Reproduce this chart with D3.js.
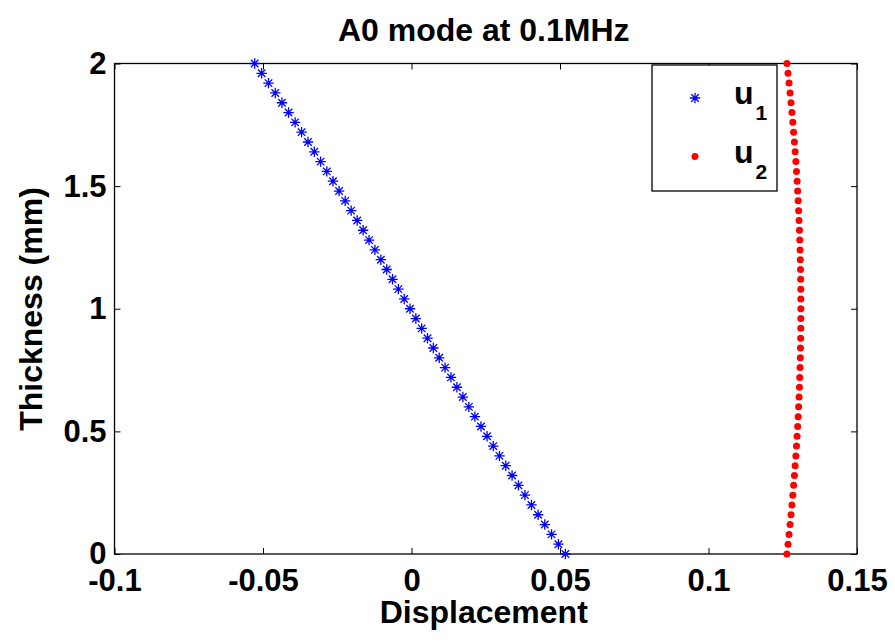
<!DOCTYPE html>
<html>
<head>
<meta charset="utf-8">
<script src="https://cdn.jsdelivr.net/npm/d3@7"></script>
<style>
  body { margin: 0; background: #fff; }
  svg { font-family: "Liberation Sans", Arial, sans-serif; font-weight: bold; }
</style>
</head>
<body>
<svg id="chart" width="895" height="641"></svg>
<script>
// thickness positions through the plate (mm)
var thickness = [0, 0.04, 0.08, 0.12, 0.16, 0.2, 0.24, 0.28, 0.32, 0.36, 0.4, 0.44, 0.48, 0.52, 0.56,
    0.6, 0.64, 0.68, 0.72, 0.76, 0.8, 0.84, 0.88, 0.92, 0.96, 1, 1.04, 1.08, 1.12, 1.16, 1.2, 1.24,
    1.28, 1.32, 1.36, 1.4, 1.44, 1.48, 1.52, 1.56, 1.6, 1.64, 1.68, 1.72, 1.76, 1.8, 1.84, 1.88,
    1.92, 1.96, 2];

// in-plane displacement u1
var u1 = [0.0518, 0.04946, 0.04715, 0.04487, 0.04262, 0.04039, 0.03819, 0.03601, 0.03386, 0.03173,
    0.02961, 0.02752, 0.02544, 0.02339, 0.02134, 0.01931, 0.01729, 0.01529, 0.01329, 0.01131,
    0.00933, 0.00735, 0.00539, 0.00342, 0.00146, -0.0005, -0.00246, -0.00442, -0.00639, -0.00835,
    -0.01033, -0.01231, -0.01429, -0.01629, -0.01829, -0.02031, -0.02234, -0.02439, -0.02644, -0.02852,
    -0.03061, -0.03273, -0.03486, -0.03701, -0.03919, -0.04139, -0.04362, -0.04587, -0.04815, -0.05046,
    -0.0528];

// out-of-plane displacement u2
var u2 = [0.1264, 0.12677, 0.12712, 0.12746, 0.12778, 0.12809, 0.12839, 0.12866, 0.12893, 0.12917,
    0.12941, 0.12963, 0.12983, 0.13002, 0.13019, 0.13035, 0.13049, 0.13062, 0.13073, 0.13083,
    0.13091, 0.13098, 0.13103, 0.13107, 0.13109, 0.1311, 0.13109, 0.13107, 0.13103, 0.13098,
    0.13091, 0.13083, 0.13073, 0.13062, 0.13049, 0.13035, 0.13019, 0.13002, 0.12983, 0.12963,
    0.12941, 0.12917, 0.12893, 0.12866, 0.12839, 0.12809, 0.12778, 0.12746, 0.12712, 0.12677,
    0.1264];

var xTicks = [-0.1, -0.05, 0, 0.05, 0.1, 0.15];
var xTickLabels = ["-0.1", "-0.05", "0", "0.05", "0.1", "0.15"];
var yTicks = [0, 0.5, 1, 1.5, 2];
var yTickLabels = ["0", "0.5", "1", "1.5", "2"];

const svg = d3.select("#chart");
const axLeft = 114.5, axRight = 857, axTop = 63.5, axBottom = 554;

const x = d3.scaleLinear().domain([-0.1, 0.15]).range([axLeft, axRight]);
const y = d3.scaleLinear().domain([0, 2]).range([axBottom, axTop]);

// ticks (inward, matlab style) on all four sides
function styleAxis(g) {
    g.select(".domain").remove();
    g.selectAll(".tick line").attr("stroke", "#000").attr("stroke-width", 1);
    g.selectAll(".tick text").attr("fill", "#000").style("font-size", "31px").style("font-weight", "bold");
}

svg.append("g").attr("transform", `translate(0,${axBottom})`)
    .call(d3.axisBottom(x).tickValues(xTicks).tickSize(-6).tickPadding(15)
        .tickFormat((d, i) => xTickLabels[i]))
    .call(styleAxis);
svg.append("g").attr("transform", `translate(0,${axTop})`)
    .call(d3.axisTop(x).tickValues(xTicks).tickSize(-6).tickFormat(""))
    .call(styleAxis);
svg.append("g").attr("transform", `translate(${axLeft},0)`)
    .call(d3.axisLeft(y).tickValues(yTicks).tickSize(-6).tickPadding(8)
        .tickFormat((d, i) => yTickLabels[i]))
    .call(styleAxis);
svg.append("g").attr("transform", `translate(${axRight},0)`)
    .call(d3.axisRight(y).tickValues(yTicks).tickSize(-6).tickFormat(""))
    .call(styleAxis);

svg.append("rect")
    .attr("x", axLeft).attr("y", axTop)
    .attr("width", axRight - axLeft).attr("height", axBottom - axTop)
    .attr("fill", "none").attr("stroke", "#000").attr("stroke-width", 1.3);

// star marker path like matlab '*'
function starPath(r) {
    var d = r * 0.72;
    return `M${-r},0L${r},0M0,${-r}L0,${r}M${-d},${-d}L${d},${d}M${-d},${d}L${d},${-d}`;
}

const data = thickness.map((t, i) => ({ t: t, u1: u1[i], u2: u2[i] }));

svg.append("g").selectAll("path")
    .data(data)
    .enter().append("path")
    .attr("transform", d => `translate(${x(d.u1)},${y(d.t)})`)
    .attr("d", starPath(5.2))
    .attr("stroke", "#0000ff")
    .attr("stroke-width", 1.3)
    .attr("fill", "none");

svg.append("g").selectAll("circle")
    .data(data)
    .enter().append("circle")
    .attr("cx", d => x(d.u2))
    .attr("cy", d => y(d.t))
    .attr("r", 3.5)
    .attr("fill", "#ff0000");

// title and axis labels
svg.append("text").attr("x", (axLeft + axRight) / 2 - 2).attr("y", 41)
    .attr("text-anchor", "middle").style("font-size", "32px").text("A0 mode at 0.1MHz");
svg.append("text").attr("x", (axLeft + axRight) / 2 - 2).attr("y", 623)
    .attr("text-anchor", "middle").style("font-size", "32px").text("Displacement");
svg.append("text").attr("transform", "translate(42,309) rotate(-90)")
    .attr("text-anchor", "middle").style("font-size", "32px").text("Thickness (mm)");

// legend
const legend = svg.append("g");
legend.append("rect")
    .attr("x", 652).attr("y", 65).attr("width", 125).attr("height", 126)
    .attr("fill", "#fff").attr("stroke", "#000").attr("stroke-width", 1.3);
legend.append("path")
    .attr("transform", "translate(695,98)")
    .attr("d", starPath(5.2))
    .attr("stroke", "#0000ff").attr("stroke-width", 1.3).attr("fill", "none");
legend.append("circle").attr("cx", 695).attr("cy", 156.5).attr("r", 3.5).attr("fill", "#ff0000");

var legendNames = [["u", "1"], ["u", "2"]];
legendNames.forEach(function (n, i) {
    var t = legend.append("text").attr("x", 734).attr("y", 103.5 + i * 59).style("font-size", "32px");
    t.append("tspan").text(n[0]);
    t.append("tspan").attr("dx", 2).attr("dy", 16).style("font-size", "21px").text(n[1]);
});
</script>
</body>
</html>
